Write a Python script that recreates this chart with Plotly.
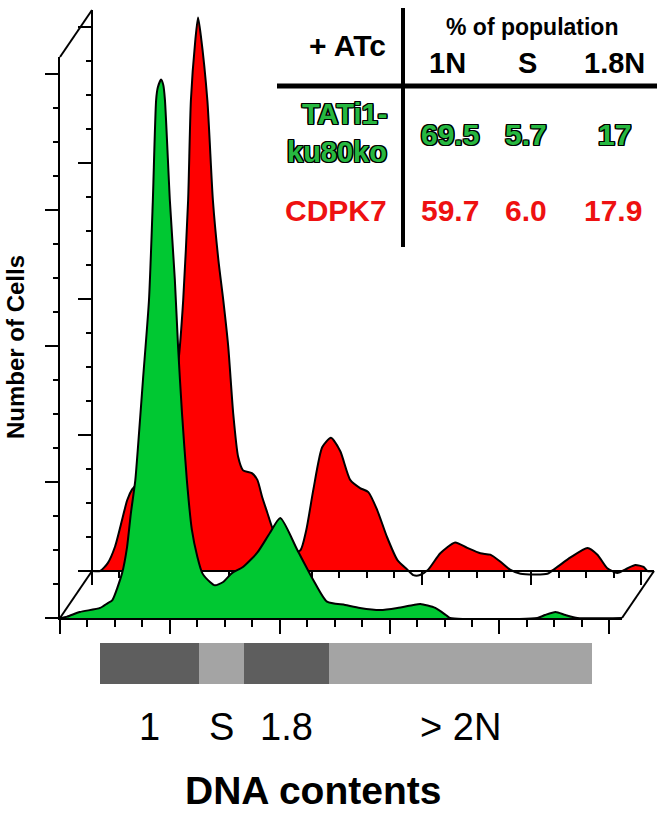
import plotly.graph_objects as go

# ---------------- data ----------------
# CDPK7 (red, back histogram): DNA-content channel vs number of cells
RED_X = [0, 15, 29, 42, 55, 64, 73, 97, 124, 146, 157, 166, 175, 180, 188, 193, 198,
         210, 220, 230, 239, 248, 257, 266, 275, 291, 301, 310, 319, 328, 342, 361, 379,
         390, 403, 419, 435, 452, 470, 488, 503, 519, 537, 556, 574, 585, 597, 612,
         634, 661, 683, 707, 725, 743, 761, 780, 829, 847, 871, 902, 920, 938, 956, 975,
         989, 1004, 1011, 1023]
RED_Y = [0, 0, 6, 18, 38, 52, 60, 71, 93, 126, 153, 199, 273, 346, 390, 407, 394,
         346, 273, 229, 199, 165, 116, 84, 74, 72, 67, 54, 43, 32, 21, 14, 15,
         30, 60, 91, 98, 88, 67, 61, 58, 45, 25, 8, 1, -3, -3, 1,
         13, 21, 17, 13, 12, 7, 1, -2, -2, 3, 10, 17, 12, 2, -1.5, 2,
         4.4, 3, 0, 0]

# TATi1-ku80ko (green, front histogram)
GREEN_X = [0, 13, 36, 73, 87, 95, 113, 122, 129, 137, 142, 151, 162, 169, 175, 178, 184,
           188, 191, 200, 209, 215, 222, 231, 240, 250, 259, 273, 282, 297, 313, 333, 359,
           382, 401, 432, 461, 486, 519, 546, 583, 614, 643, 656, 683, 703, 710, 869,
           883, 902, 920, 942, 1023]
GREEN_Y = [0, 1, 4.4, 7.4, 11, 13, 33, 52, 77, 101, 126, 175, 234, 307, 381, 390, 396,
           392, 381, 307, 249, 199, 151, 101, 65, 45, 33, 26.5, 24, 26.5, 33, 37.5, 48,
           62.5, 73.5, 50, 28, 12, 9.6, 7.4, 5.9, 7.4, 9.6, 10.3, 7.4, 2, 0, 0,
           2.2, 4.4, 2.2, 0, 0]

# gates on the DNA axis
GATE_LABELS = ["1", "S", "1.8", "> 2N"]
GATE_START = [73, 253, 335, 490]
GATE_END = [253, 335, 490, 968]

# table
TABLE_HEADER = "% of population"
TABLE_COLS = ["1N", "S", "1.8N"]
TATI_VALUES = ["69.5", "5.7", "17"]
CDPK7_VALUES = ["59.7", "6.0", "17.9"]

# ---------------- styling / geometry ----------------
W, H = 657, 813
FONT = "Liberation Sans, Arial, sans-serif"
RED = "#ff0000"
GREEN = "#00c832"
TXT_GREEN = "#27b840"
TXT_RED = "#ee1111"
DARK_GRAY = "#5e5e5e"
LIGHT_GRAY = "#a4a4a4"
SMOOTH = 0.6


def fx(p):
    return p / W


def fy(p):
    return 1 - p / H


X_MAX = 1023
Y_MAX = 412.5
PX_PER_Y = 1.36
FRONT_L, FRONT_R, FRONT_B = 60, 622, 618
DX, DY = 32, 47
BACK_L, BACK_R, BACK_B = FRONT_L + DX, FRONT_R + DX, FRONT_B - DY
FRONT_T = FRONT_B - Y_MAX * PX_PER_Y
BACK_T = BACK_B - Y_MAX * PX_PER_Y
RED_YMIN = -8
BACK_DOM_B = BACK_B - RED_YMIN * PX_PER_Y

fig = go.Figure()

# red (back) histogram: fill above baseline + outline
fig.add_trace(go.Scatter(x=RED_X, y=[max(v, 0) for v in RED_Y], mode="lines",
                         fill="tozeroy", fillcolor=RED,
                         line=dict(width=0, shape="spline", smoothing=SMOOTH),
                         xaxis="x", yaxis="y", hoverinfo="skip", showlegend=False))
fig.add_trace(go.Scatter(x=RED_X, y=RED_Y, mode="lines",
                         line=dict(color="black", width=2, shape="spline", smoothing=SMOOTH),
                         xaxis="x", yaxis="y", name="CDPK7", showlegend=False))

# green (front) histogram
fig.add_trace(go.Scatter(x=GREEN_X, y=GREEN_Y, mode="lines", fill="tozeroy",
                         fillcolor=GREEN,
                         line=dict(color="black", width=2, shape="spline", smoothing=SMOOTH),
                         xaxis="x2", yaxis="y2", name="TATi1-ku80ko", showlegend=False))

# gate bar
gate_colors = [DARK_GRAY if i % 2 == 0 else LIGHT_GRAY for i in range(len(GATE_LABELS))]
fig.add_trace(go.Bar(y=[0] * len(GATE_LABELS),
                     x=[e - s for s, e in zip(GATE_START, GATE_END)],
                     base=GATE_START, orientation="h", width=1,
                     marker=dict(color=gate_colors, line=dict(width=0)),
                     xaxis="x3", yaxis="y3", showlegend=False, hoverinfo="skip"))

axis_common = dict(showgrid=False, zeroline=False, showticklabels=False,
                   ticks="outside", tickcolor="black", tickwidth=2)

fig.update_layout(
    width=W, height=H, margin=dict(l=0, r=0, t=0, b=0),
    paper_bgcolor="white", plot_bgcolor="rgba(0,0,0,0)",
    showlegend=False, bargap=0,
    xaxis=dict(domain=[fx(BACK_L), fx(BACK_R)], range=[0, X_MAX], anchor="free",
               position=fy(BACK_B), showline=True, linecolor="black", linewidth=2,
               tick0=0, dtick=200, ticklen=13,
               minor=dict(ticks="outside", dtick=50, ticklen=6, tickcolor="black", tickwidth=2),
               **axis_common),
    yaxis=dict(domain=[fy(BACK_DOM_B), fy(BACK_T)], range=[RED_YMIN, Y_MAX], anchor="x",
               showline=False, tick0=0, dtick=100, ticklen=13,
               minor=dict(ticks="outside", dtick=25, ticklen=5, tickcolor="black", tickwidth=2),
               **axis_common),
    xaxis2=dict(domain=[fx(FRONT_L), fx(FRONT_R)], range=[0, X_MAX], anchor="y2",
                showline=True, linecolor="black", linewidth=2,
                tick0=0, dtick=200, ticklen=14,
                minor=dict(ticks="outside", dtick=50, ticklen=7, tickcolor="black", tickwidth=2),
                **axis_common),
    yaxis2=dict(domain=[fy(FRONT_B), fy(FRONT_T)], range=[0, Y_MAX], anchor="x2",
                showline=True, linecolor="black", linewidth=2,
                tick0=0, dtick=100, ticklen=13,
                minor=dict(ticks="outside", dtick=25, ticklen=5, tickcolor="black", tickwidth=2),
                **axis_common),
    xaxis3=dict(domain=[fx(FRONT_L), fx(FRONT_R)], range=[0, X_MAX], anchor="y3", visible=False),
    yaxis3=dict(domain=[fy(684), fy(643)], range=[-0.5, 0.5], anchor="x3", visible=False),
)

shapes = []
line = dict(color="black", width=2)
# back y axis line (from baseline up)
shapes.append(dict(type="line", xref="paper", yref="y", x0=fx(BACK_L), x1=fx(BACK_L),
                   y0=0, y1=Y_MAX, line=line))
# perspective edges
for (xa, ya, xb, yb) in [(FRONT_L, FRONT_B, BACK_L, BACK_B),
                         (FRONT_L, FRONT_T, BACK_L, BACK_T),
                         (FRONT_R, FRONT_B, BACK_R, BACK_B)]:
    shapes.append(dict(type="line", xref="paper", yref="paper", x0=fx(xa), y0=fy(ya),
                       x1=fx(xb), y1=fy(yb), line=line))
# table rules
shapes.append(dict(type="line", xref="paper", yref="paper", x0=fx(403), x1=fx(403),
                   y0=fy(8), y1=fy(247), line=dict(color="black", width=4)))
shapes.append(dict(type="line", xref="paper", yref="paper", x0=fx(277), x1=fx(657),
                   y0=fy(86), y1=fy(86), line=dict(color="black", width=5)))
fig.update_layout(shapes=shapes)

OUTLINE = ("-1.2px -1.2px 0 #000, 1.2px -1.2px 0 #000, -1.2px 1.2px 0 #000, "
           "1.2px 1.2px 0 #000, 0 1.2px 0 #000, 0 -1.2px 0 #000, 1.2px 0 0 #000, -1.2px 0 0 #000")

anns = []


def ann(text, x, y, size, color="black", bold=True, xanchor="center", shadow=None,
        xref="paper", angle=0):
    f = dict(family=FONT, size=size, color=color)
    if shadow:
        f["shadow"] = shadow
    anns.append(dict(text=f"<b>{text}</b>" if bold else text,
                     x=x if xref != "paper" else fx(x), y=fy(y), xref=xref, yref="paper",
                     xanchor=xanchor, yanchor="middle", showarrow=False, font=f,
                     textangle=angle))


# table text
ann("+ ATc", 388, 45, 30, xanchor="right")
ann(TABLE_HEADER, 532, 27, 23)
for c, xc in zip(TABLE_COLS, [447, 527, 614]):
    ann(c, xc, 63, 29)
ann("TATi1-", 389, 114, 29, TXT_GREEN, xanchor="right", shadow=OUTLINE)
ann("ku80ko", 389, 152, 29, TXT_GREEN, xanchor="right", shadow=OUTLINE)
for v, xc in zip(TATI_VALUES, [450, 526, 614]):
    ann(v, xc, 135, 30, TXT_GREEN, shadow=OUTLINE)
ann("CDPK7", 389, 210, 30, TXT_RED, xanchor="right")
for v, xc in zip(CDPK7_VALUES, [450, 526, 613]):
    ann(v, xc, 210, 30, TXT_RED)

# gate labels (under the gate bar, centred on each gate)
for lab, s, e in zip(GATE_LABELS, GATE_START, GATE_END):
    ann(lab, (s + e) / 2, 727, 38, bold=False, xref="x3")

ann("DNA contents", 313, 790, 39)
ann("Number of Cells", 15, 347, 24, angle=-90)

fig.update_layout(annotations=anns)
fig.write_html("out.html", config={"displayModeBar": False},
               post_script="document.body.style.margin='0';document.body.style.overflow='hidden';")
